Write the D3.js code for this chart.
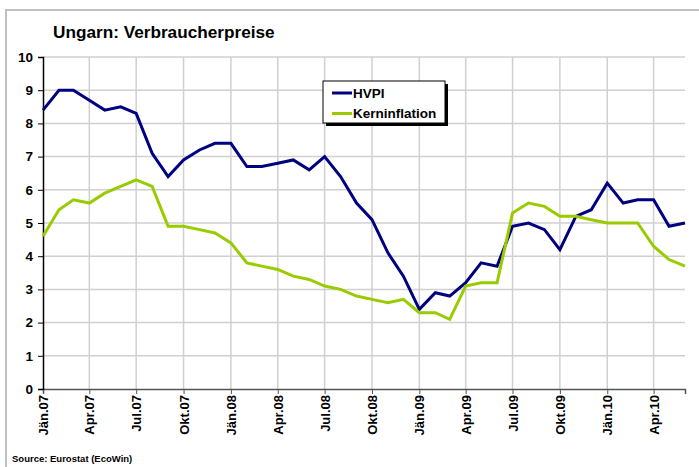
<!DOCTYPE html>
<html>
<head>
<meta charset="utf-8">
<script src="https://cdn.jsdelivr.net/npm/d3@7"></script>
<style>
  body { margin: 0; background: #fff; }
  svg { font-family: Arial, "Liberation Sans", sans-serif; }
</style>
</head>
<body>
<script>
// monthly, Jan 2007 .. Jun 2010
var months = d3.range(42).map(function(i) { return new Date(2007, i, 1); });

var hvpi = [8.4, 9.0, 9.0, 8.7, 8.4, 8.5, 8.3, 7.1, 6.4, 6.9, 7.2, 7.4,
            7.4, 6.7, 6.7, 6.8, 6.9, 6.6, 7.0, 6.4, 5.6, 5.1, 4.1, 3.4,
            2.4, 2.9, 2.8, 3.2, 3.8, 3.7, 4.9, 5.0, 4.8, 4.2, 5.2, 5.4,
            6.2, 5.6, 5.7, 5.7, 4.9, 5.0];

var kern = [4.6, 5.4, 5.7, 5.6, 5.9, 6.1, 6.3, 6.1, 4.9, 4.9, 4.8, 4.7,
            4.4, 3.8, 3.7, 3.6, 3.4, 3.3, 3.1, 3.0, 2.8, 2.7, 2.6, 2.7,
            2.3, 2.3, 2.1, 3.1, 3.2, 3.2, 5.3, 5.6, 5.5, 5.2, 5.2, 5.1,
            5.0, 5.0, 5.0, 4.3, 3.9, 3.7];

var monthNames = ["Jän", "Feb", "Mär", "Apr", "Mai", "Jun", "Jul", "Aug", "Sep", "Okt", "Nov", "Dez"];
var yTicks = d3.range(0, 11);

var series = [
  {name: "HVPI", values: hvpi, color: "#000080"},
  {name: "Kerninflation", values: kern, color: "#99cc00"}
];

var W = 699, H = 467;
var margin = {top: 57, right: 14, bottom: 78, left: 43};
var width = W - margin.left - margin.right;
var height = H - margin.top - margin.bottom;

var svg = d3.select("body").append("svg")
    .attr("width", W)
    .attr("height", H);

// grey frame
svg.append("path")
    .attr("d", "M6," + H + "V10H" + W)
    .attr("fill", "none")
    .attr("stroke", "#c0c0c0")
    .attr("stroke-width", 2);

svg.append("text")
    .attr("x", 53)
    .attr("y", 38)
    .style("font-size", "17.2px")
    .style("font-weight", "bold")
    .text("Ungarn: Verbraucherpreise");

svg.append("text")
    .attr("x", 12)
    .attr("y", 462)
    .style("font-size", "9.5px")
    .style("font-weight", "bold")
    .text("Source: Eurostat (EcoWin)");

var g = svg.append("g")
    .attr("transform", "translate(" + margin.left + "," + margin.top + ")");

var x = d3.scaleTime()
    .domain([months[0], months[months.length - 1]])
    .range([0, width]);

var y = d3.scaleLinear().domain([0, 10]).range([height, 0]);

var quarterTicks = months.filter(function(d) { return d.getMonth() % 3 === 0; });

// grid
g.append("g")
  .selectAll("line.h")
  .data(yTicks.slice(1))
  .enter().append("line")
    .attr("x1", 0).attr("x2", width)
    .attr("y1", function(d) { return y(d); })
    .attr("y2", function(d) { return y(d); })
    .attr("stroke", "#d0d0d0")
    .attr("stroke-width", 1.5);

g.append("g")
  .selectAll("line.v")
  .data(quarterTicks.slice(1))
  .enter().append("line")
    .attr("x1", function(d) { return x(d); })
    .attr("x2", function(d) { return x(d); })
    .attr("y1", 0).attr("y2", height)
    .attr("stroke", "#d0d0d0")
    .attr("stroke-width", 1.5);

var xAxis = d3.axisBottom(x)
    .tickValues(quarterTicks)
    .tickSize(5)
    .tickFormat(function(d) {
      return monthNames[d.getMonth()] + "." + d3.timeFormat("%y")(d);
    });

var yAxis = d3.axisLeft(y)
    .tickValues(yTicks)
    .tickSize(5)
    .tickFormat(d3.format("d"));

var gx = g.append("g")
    .attr("transform", "translate(0," + height + ")")
    .call(xAxis);
gx.select(".domain").attr("stroke", "#555").attr("stroke-width", 1.5);
gx.selectAll(".tick line").attr("stroke", "#555");
gx.selectAll("text")
    .style("font-size", "13px")
    .style("font-weight", "bold")
    .style("font-family", "Arial, 'Liberation Sans', sans-serif")
    .attr("fill", "#000")
    .style("text-anchor", "end")
    .attr("transform", "rotate(-90)")
    .attr("y", 0)
    .attr("x", 0)
    .attr("dx", -6)
    .attr("dy", "0.35em");

var gy = g.append("g").call(yAxis);
gy.select(".domain").attr("stroke", "#000").attr("stroke-width", 1.5);
gy.selectAll(".tick line").attr("stroke", "#000");
gy.selectAll("text")
    .style("font-size", "13.5px")
    .style("font-weight", "bold")
    .style("font-family", "Arial, 'Liberation Sans', sans-serif")
    .attr("fill", "#000")
    .attr("x", -10);

var line = d3.line()
    .x(function(d, i) { return x(months[i]); })
    .y(function(d) { return y(d); });

g.selectAll("path.series")
  .data(series)
  .enter().append("path")
    .attr("class", "series")
    .attr("fill", "none")
    .attr("stroke", function(d) { return d.color; })
    .attr("stroke-width", 3)
    .attr("stroke-linejoin", "miter")
    .attr("d", function(d) { return line(d.values); });

// legend
var lg = svg.append("g").attr("transform", "translate(323,81)");
lg.append("rect")
    .attr("x", 3).attr("y", 3)
    .attr("width", 122).attr("height", 42)
    .attr("fill", "#000");
lg.append("rect")
    .attr("width", 122).attr("height", 42)
    .attr("fill", "#fff")
    .attr("stroke", "#000")
    .attr("stroke-width", 1);

var items = lg.selectAll("g.item")
  .data(series)
  .enter().append("g")
    .attr("transform", function(d, i) { return "translate(0," + (12 + i * 20.5) + ")"; });
items.append("line")
    .attr("x1", 9).attr("x2", 29)
    .attr("stroke", function(d) { return d.color; })
    .attr("stroke-width", 3);
items.append("text")
    .attr("x", 30)
    .attr("dy", "0.36em")
    .style("font-size", "13.5px")
    .style("font-weight", "bold")
    .text(function(d) { return d.name; });
</script>
</body>
</html>
